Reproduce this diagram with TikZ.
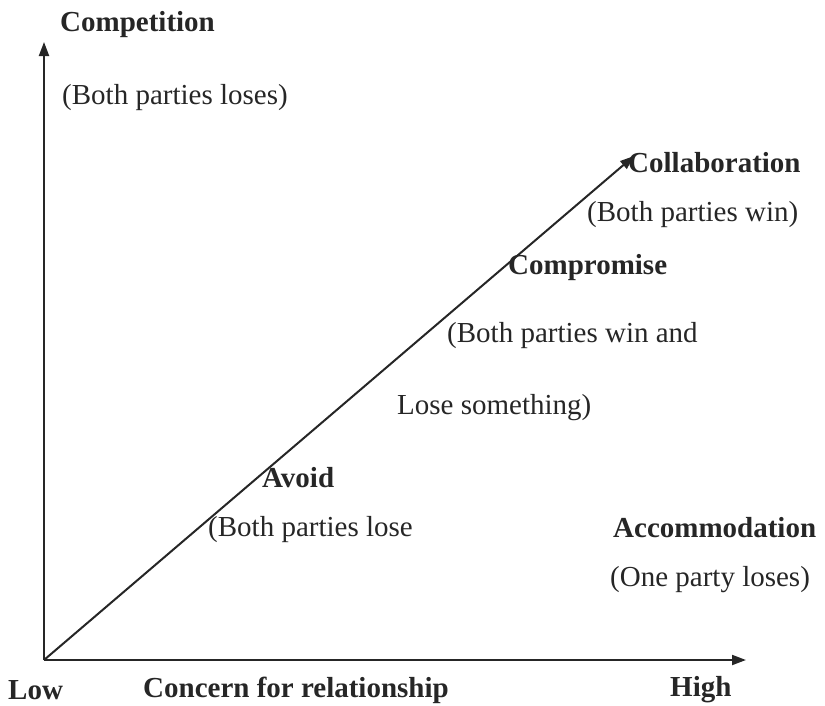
\documentclass[tikz,border=0pt]{standalone}
\usepackage{fontspec}
\setmainfont{Liberation Serif}
\usepackage{tikz}
\usetikzlibrary{arrows.meta, calc}

\definecolor{inkgray}{HTML}{262626}

\begin{document}
\begin{tikzpicture}[x=1pt, y=-1pt,
    lbl/.style={anchor=west, inner sep=0pt, text=inkgray, font=\fontsize{29}{34}\selectfont},
    bold lbl/.style={lbl, font=\fontsize{29}{34}\selectfont\bfseries},
    axis/.style={draw=inkgray, line width=2pt, -{Triangle[length=14pt, width=10pt]}}]

\useasboundingbox (0,0) rectangle (825,705);

 %%Paramaters
%% axis ends, can be modified
\def\axisLeft{44}
\def\axisBase{660}
\coordinate (origin) at (\axisLeft, \axisBase);
\coordinate (ytip) at (\axisLeft, 42);
\coordinate (xtip) at (746, \axisBase);
\coordinate (dtip) at (634, 156);

 %% ***Axes***
\draw[axis] (origin) -- (ytip);
\draw[axis] (origin) -- (xtip);
\draw[axis] (origin) -- (dtip);

 %% ***Axis labels***
\node[bold lbl] (comp) at (60, 25) {Competition};
\node[lbl] (complose) at (62, 98) {(Both parties loses)};
\node[bold lbl] (low) at (8, 690) {Low};
\node[bold lbl] (concern) at (143, 690) {Concern for relationship};
\node[bold lbl] (high) at (670, 690) {High};

 %% ***Styles along the diagonal***
\node[bold lbl] (collab) at (628, 163) {Collaboration};
\node[lbl] (collabwin) at (587, 215) {(Both parties win)};
\node[bold lbl] (compro) at (508, 268) {Compromise};
\node[lbl] (comprowin) at (447, 336) {(Both parties win and};
\node[lbl] (comprolose) at (397, 408) {Lose something)};
\node[bold lbl] (avoid) at (262, 478) {Avoid};
\node[lbl] (avoidlose) at (208, 530) {(Both parties lose};

 %% ***Accommodation***
\node[bold lbl] (accom) at (613, 528) {Accommodation};
\node[lbl] (accomlose) at (610, 580) {(One party loses)};

\end{tikzpicture}
\end{document}
